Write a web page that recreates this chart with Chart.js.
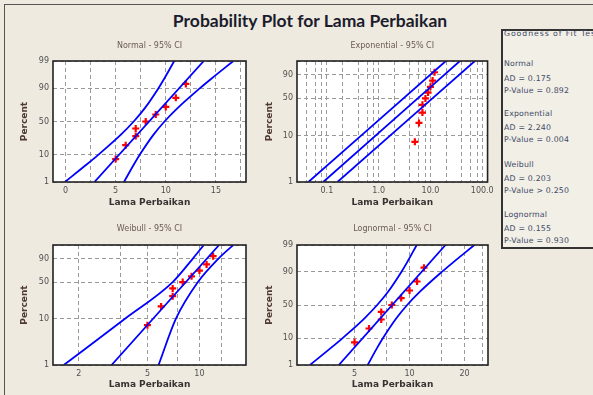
<!DOCTYPE html>
<html>
<head>
<meta charset="utf-8">
<script src="https://cdn.jsdelivr.net/npm/chart.js@4.4.1/dist/chart.umd.min.js"></script>
<style>
  html { margin: 0; padding: 0; overflow: hidden; background: #eeeae0; }
  body { margin: 0; padding: 0; width: 593px; height: 395px; background: #eeeae0; position: relative; font-family: "DejaVu Sans", sans-serif; }
  #frame { position: absolute; left: 4px; top: 4px; width: 700px; height: 500px; border: 1.5px solid #555; }
  #title { position: absolute; left: 0; width: 620px; top: 10px; text-align: center; font: bold 17.5px Lato, sans-serif; color: #1c1c2c; }
  canvas { position: absolute; }
  #gofBox { position: absolute; left: 501px; top: 29px; width: 220px; height: 216px; border: 2px solid #333; border-right: none; background: #f2efe7; }
  .gof { position: absolute; left: 504px; font-size: 7.8px; line-height: 9px; letter-spacing: 0.2px; color: #3d4a66; white-space: nowrap; }
  .gof.head { letter-spacing: 0.9px; }
</style>
</head>
<body>
<div id="frame"></div>
<div id="title">Probability Plot for Lama Perbaikan</div>
<div id="gofBox"></div>
<canvas id="cNormal" width="240" height="176" style="left:15px;top:36px"></canvas>
<canvas id="cExpo" width="240" height="176" style="left:258px;top:36px"></canvas>
<canvas id="cWeibull" width="240" height="175" style="left:15px;top:220px"></canvas>
<canvas id="cLognorm" width="240" height="175" style="left:258px;top:220px"></canvas>
<script>
// Datos
const repairTimes = [5, 6, 7, 7, 8, 9, 10, 11, 12];
const plotPct = [7.4, 18.1, 28.7, 39.4, 50, 60.6, 71.3, 81.9, 92.6];
const endPct = [1, 99];
const bandPct = [1, 5, 10, 30, 50, 70, 90, 95, 99];

const normalFit = [2.88, 13.79];
const normalLow = [-0.07, 2.13, 3.26, 5.47, 6.80, 7.93, 9.27, 9.84, 10.84];
const normalHigh = [5.83, 6.83, 7.40, 8.74, 9.87, 11.20, 13.41, 14.54, 16.74];

const expoFit = [0.085, 37];
const expoLow = [0.044, 19.8];
const expoHigh = [0.16, 72];

const weibullPct = [1, 10, 50, 90, 99];
const weibullFit = [3.1, 13.0];
const weibullLow = [1.64, 3.69, 7.0, 9.16, 10.6];
const weibullHigh = [5.8, 7.3, 9.8, 12.9, 15.7];

const lognormFit = [4.10, 15.74];
const lognormLow = [2.85, 3.74, 4.30, 5.65, 6.65, 7.65, 9.02, 9.68, 10.95];
const lognormHigh = [5.90, 6.67, 7.16, 8.45, 9.71, 11.44, 15.02, 17.27, 22.65];

// Ticks y lineas de rejilla
const pctGrid = [1, 10, 50, 90, 99];
const pctLabelsAll = [1, 10, 50, 90, 99];
const pctLabelsNoTop = [1, 10, 50, 90];
const normalXGrid = [0, 2.5, 5, 7.5, 10, 12.5, 15, 17.5];
const normalXLabels = [0, 5, 10, 15];
const expoXGrid = [0.04, 0.06, 0.08, 0.1, 0.2, 0.4, 0.6, 0.8, 1, 2, 4, 6, 8, 10, 20, 40, 60, 80, 100];
const expoXLabels = { 0.1: '0.1', 1: '1.0', 10: '10.0', 100: '100.0' };
const weibullXGrid = [2, 3.5, 5, 7.5, 10, 13.5];
const weibullXLabels = [2, 5, 10];
const lognormXGrid = [5, 7.5, 10, 15, 20, 25];
const lognormXLabels = [5, 10, 20];

// Tabla de bondad de ajuste
const gofLines = [
  ['Goodness of Fit Test', 33.5],
  ['Normal', 63.5], ['AD = 0.175', 78.5], ['P-Value = 0.892', 90.5],
  ['Exponential', 113], ['AD = 2.240', 127.5], ['P-Value = 0.004', 139],
  ['Weibull', 164], ['AD = 0.203', 178.5], ['P-Value > 0.250', 190.5],
  ['Lognormal', 214], ['AD = 0.155', 228.5], ['P-Value = 0.930', 240.5]
];

gofLines.forEach(([txt, y], i) => {
  const d = document.createElement('div');
  d.className = i === 0 ? 'gof head' : 'gof';
  d.style.top = (y - 4.5) + 'px';
  d.textContent = txt;
  document.body.appendChild(d);
});

// Inversa de la normal (Acklam)
function probit(p) {
  const a = [-3.969683028665376e+01, 2.209460984245205e+02, -2.759285104469687e+02, 1.383577518672690e+02, -3.066479806614716e+01, 2.506628277459239e+00];
  const b = [-5.447609879822406e+01, 1.615858368580409e+02, -1.556989798598866e+02, 6.680131188771972e+01, -1.328068155288572e+01];
  const c = [-7.784894002430293e-03, -3.223964580411365e-01, -2.400758277161838e+00, -2.549732539343734e+00, 4.374664141464968e+00, 2.938163982698783e+00];
  const d = [7.784695709041462e-03, 3.224671290700398e-01, 2.445134137142996e+00, 3.754408661907416e+00];
  const pl = 0.02425;
  if (p < pl) {
    const q = Math.sqrt(-2 * Math.log(p));
    return (((((c[0] * q + c[1]) * q + c[2]) * q + c[3]) * q + c[4]) * q + c[5]) / ((((d[0] * q + d[1]) * q + d[2]) * q + d[3]) * q + 1);
  }
  if (p > 1 - pl) {
    const q = Math.sqrt(-2 * Math.log(1 - p));
    return -(((((c[0] * q + c[1]) * q + c[2]) * q + c[3]) * q + c[4]) * q + c[5]) / ((((d[0] * q + d[1]) * q + d[2]) * q + d[3]) * q + 1);
  }
  const q = p - 0.5, r = q * q;
  return (((((a[0] * r + a[1]) * r + a[2]) * r + a[3]) * r + a[4]) * r + a[5]) * q / (((((b[0] * r + b[1]) * r + b[2]) * r + b[3]) * r + b[4]) * r + 1);
}

// Escala de probabilidad normal (porcentaje)
class ProbitScale extends Chart.Scale {
  transform(v) { return probit(v / 100); }
  determineDataLimits() { this.min = this.options.min; this.max = this.options.max; }
  buildTicks() { return []; }
  getLabelForValue(v) { return String(v); }
  configure() {
    super.configure();
    this._t0 = this.transform(this.min);
    this._t1 = this.transform(this.max);
  }
  getPixelForValue(v) {
    return this.getPixelForDecimal((this.transform(v) - this._t0) / (this._t1 - this._t0));
  }
  getValueForPixel(px) {
    const dec = this.getDecimalForPixel(px);
    let lo = this.min, hi = this.max;
    for (let i = 0; i < 40; i++) {
      const mid = (lo + hi) / 2;
      if ((this.transform(mid) - this._t0) / (this._t1 - this._t0) < dec) lo = mid; else hi = mid;
    }
    return (lo + hi) / 2;
  }
}
ProbitScale.id = 'probit';
ProbitScale.defaults = {};

// Escala de Weibull: ln(-ln(1-p))
class WeibullScale extends ProbitScale {
  transform(v) { return Math.log(-Math.log(1 - v / 100)); }
}
WeibullScale.id = 'weibull';
WeibullScale.defaults = {};

Chart.register(ProbitScale, WeibullScale);

const blue = '#0000ff';
const red = '#ff0000';
const tickFont = { family: 'DejaVu Sans', size: 8 };
const axisFont = { family: 'DejaVu Sans', size: 9, weight: 'bold' };

const plotFrame = {
  id: 'plotFrame',
  beforeDraw(chart) {
    const a = chart.chartArea, ctx = chart.ctx;
    ctx.save();
    ctx.fillStyle = '#ffffff';
    ctx.fillRect(a.left, a.top, a.right - a.left, a.bottom - a.top);
    ctx.restore();
  },
  afterDraw(chart) {
    const a = chart.chartArea, ctx = chart.ctx;
    ctx.save();
    ctx.strokeStyle = '#222';
    ctx.lineWidth = 1.6;
    ctx.strokeRect(a.left, a.top, a.right - a.left, a.bottom - a.top);
    ctx.restore();
  }
};

function pairs(xs, ps) {
  return xs.map((x, i) => ({ x: x, y: ps[i] }));
}

function makePanel(id, o) {
  const lineSet = (data) => ({
    data: data, showLine: true, borderColor: blue, borderWidth: 1.8,
    pointRadius: 0, cubicInterpolationMode: 'monotone'
  });
  new Chart(document.getElementById(id), {
    type: 'scatter',
    data: {
      datasets: [
        lineSet(pairs(o.low, o.bandPct)),
        lineSet(pairs(o.high, o.bandPct)),
        lineSet(pairs(o.fit, endPct)),
        {
          data: pairs(repairTimes, plotPct), showLine: false,
          pointStyle: 'cross', pointRadius: 3.5, pointBorderWidth: 2.2,
          borderColor: red, backgroundColor: red
        }
      ]
    },
    options: {
      responsive: false,
      animation: false,
      events: [],
      layout: { padding: { left: 0, right: o.padRight, top: 0, bottom: 0 } },
      plugins: {
        legend: { display: false },
        tooltip: { enabled: false },
        title: {
          display: true, text: o.title, fullSize: false, color: '#6a5a55',
          font: { family: 'DejaVu Sans', size: 8, weight: 'normal' },
          padding: { top: o.titleTop, bottom: 15.4 - o.titleTop }
        }
      },
      scales: {
        x: {
          type: o.xType, min: o.xMin, max: o.xMax,
          afterBuildTicks: s => { s.ticks = o.xGrid.map(v => ({ value: v })); },
          afterFit: s => { s.height = 30; },
          ticks: {
            autoSkip: false, maxRotation: 0, padding: 4, color: '#505050', font: tickFont,
            callback: v => o.xLabel(v)
          },
          grid: { color: '#9a9a9a', lineWidth: 1, drawTicks: false },
          border: { display: false, dash: [4, 3] },
          title: {
            display: true, text: 'Lama Perbaikan', color: '#3a3232', font: axisFont,
            padding: { top: 0, bottom: o.xTitleBottom }
          }
        },
        y: {
          type: o.yType, min: 1, max: 99,
          afterBuildTicks: s => { s.ticks = pctGrid.map(v => ({ value: v })); },
          afterFit: s => { s.width = o.yWidth; },
          ticks: {
            autoSkip: false, padding: 4, color: '#505050', font: tickFont,
            callback: v => (o.yLabels.includes(v) ? String(v) : '')
          },
          grid: { color: '#9a9a9a', lineWidth: 1, drawTicks: false },
          border: { display: false, dash: [4, 3] },
          title: {
            display: true, text: 'Percent', color: '#4e3a30', font: axisFont,
            padding: { top: o.yTitleTop, bottom: 0 }
          }
        }
      }
    },
    plugins: [plotFrame]
  });
}

makePanel('cNormal', {
  title: 'Normal - 95% CI', titleTop: 5.2, padRight: 9, yWidth: 38, yTitleTop: 4.6, xTitleBottom: 3.6,
  xType: 'linear', xMin: -1.25, xMax: 18, xGrid: normalXGrid,
  xLabel: v => (normalXLabels.includes(v) ? String(v) : ''),
  yType: 'probit', yLabels: pctLabelsAll,
  fit: normalFit, low: normalLow, high: normalHigh, bandPct: bandPct
});

makePanel('cExpo', {
  title: 'Exponential - 95% CI', titleTop: 5.2, padRight: 10, yWidth: 39, yTitleTop: 6.6, xTitleBottom: 3.6,
  xType: 'logarithmic', xMin: 0.0265, xMax: 126.6, xGrid: expoXGrid,
  xLabel: v => expoXLabels[v] || '',
  yType: 'weibull', yLabels: pctLabelsNoTop,
  fit: expoFit, low: expoLow, high: expoHigh, bandPct: endPct
});

makePanel('cWeibull', {
  title: 'Weibull - 95% CI', titleTop: 4.5, padRight: 9, yWidth: 38, yTitleTop: 4.6, xTitleBottom: 4.6,
  xType: 'logarithmic', xMin: 1.42, xMax: 18.6, xGrid: weibullXGrid,
  xLabel: v => (weibullXLabels.includes(v) ? String(v) : ''),
  yType: 'weibull', yLabels: pctLabelsNoTop,
  fit: weibullFit, low: weibullLow, high: weibullHigh, bandPct: weibullPct
});

makePanel('cLognorm', {
  title: 'Lognormal - 95% CI', titleTop: 4.5, padRight: 10, yWidth: 39, yTitleTop: 6.6, xTitleBottom: 4.6,
  xType: 'logarithmic', xMin: 2.42, xMax: 26.9, xGrid: lognormXGrid,
  xLabel: v => (lognormXLabels.includes(v) ? String(v) : ''),
  yType: 'probit', yLabels: pctLabelsAll,
  fit: lognormFit, low: lognormLow, high: lognormHigh, bandPct: bandPct
});
</script>
</body>
</html>
